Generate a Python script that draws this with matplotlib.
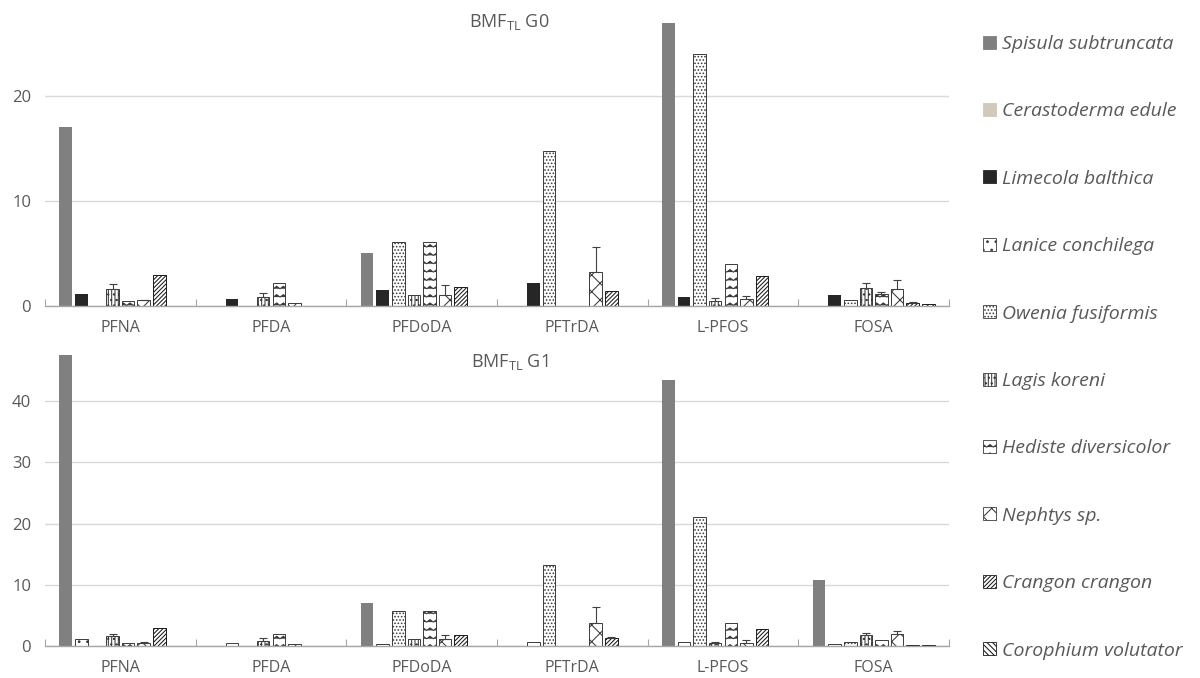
import numpy as np
import matplotlib
matplotlib.use("Agg")
import matplotlib.pyplot as plt
import matplotlib.hatch as mhatch
from matplotlib.path import Path
from matplotlib.patches import Patch
from matplotlib.font_manager import FontProperties

# ---------------- custom zig-zag hatch (used for Hediste) ----------------
class ZigZagHatch(mhatch.HatchPatternBase):
    def __init__(self, hatch, density):
        self.num_rows = int(hatch.count('O') * density)
        self.num_zigs = int(self.num_rows * 1.3)
        self.num_vertices = self.num_rows * (2 * self.num_zigs + 1) if self.num_rows else 0

    def set_vertices_and_codes(self, vertices, codes):
        n, m = self.num_rows, self.num_zigs
        amp = 0.15 / n
        cursor = 0
        xs = np.linspace(0.0, 1.0, 2 * m + 1)
        offs = np.where(np.arange(2 * m + 1) % 2 == 0, -amp, amp)
        for k in range(n):
            y0 = (k + 0.5) / n
            seg = slice(cursor, cursor + 2 * m + 1)
            vertices[seg, 0] = xs
            vertices[seg, 1] = y0 + offs
            codes[seg] = Path.LINETO
            codes[cursor] = Path.MOVETO
            cursor += 2 * m + 1

mhatch._hatch_types[:] = [h for h in mhatch._hatch_types if h is not mhatch.LargeCircles] + [ZigZagHatch]

# ---------------- data ----------------
categories = ["PFNA", "PFDA", "PFDoDA", "PFTrDA", "L-PFOS", "FOSA"]

legend_species = ["Spisula subtruncata", "Cerastoderma edule", "Limecola balthica",
                  "Lanice conchilega", "Owenia fusiformis", "Lagis koreni",
                  "Hediste diversicolor", "Nephtys sp.", "Crangon crangon",
                  "Corophium volutator"]

nan = np.nan
# G0
g0_species = ["Spisula subtruncata", "Limecola balthica", "Owenia fusiformis", "Lagis koreni",
              "Hediste diversicolor", "Nephtys sp.", "Crangon crangon", "Corophium volutator"]
spisula_g0 = [17.0, nan, 5.0, nan, 26.9, nan]
limecola_g0 = [1.1, 0.65, 1.5, 2.15, 0.9, 1.0]
owenia_g0 = [nan, nan, 6.1, 14.75, 24.0, 0.55]
lagis_g0 = [1.6, 0.85, 1.05, nan, 0.45, 1.7]
hediste_g0 = [0.45, 2.15, 6.1, nan, 3.95, 1.1]
nephtys_g0 = [0.55, 0.3, 1.05, 3.2, 0.65, 1.6]
crangon_g0 = [2.95, nan, 1.8, 1.45, 2.85, 0.25]
corophium_g0 = [nan, nan, nan, nan, nan, 0.2]

lagis_err_g0 = [0.45, 0.4, 0, 0, 0.28, 0.45]
hediste_err_g0 = [0, 0, 0, 0, 0, 0.25]
nephtys_err_g0 = [0.05, 0, 0.92, 2.45, 0.31, 0.86]
crangon_err_g0 = [0, 0, 0, 0, 0, 0.15]

# G1
g1_species = ["Spisula subtruncata", "Lanice conchilega", "Owenia fusiformis", "Lagis koreni",
              "Hediste diversicolor", "Nephtys sp.", "Crangon crangon", "Corophium volutator"]
spisula_g1 = [47.5, nan, 7.0, nan, 43.5, 10.8]
lanice_g1 = [1.2, 0.45, 0.35, 0.6, 0.6, 0.35]
owenia_g1 = [nan, nan, 5.65, 13.3, 21.1, 0.6]
lagis_g1 = [1.6, 0.8, 1.1, nan, 0.45, 1.75]
hediste_g1 = [0.45, 1.95, 5.65, nan, 3.7, 0.95]
nephtys_g1 = [0.55, 0.25, 1.1, 3.7, 0.55, 1.95]
crangon_g1 = [2.9, nan, 1.8, 1.25, 2.7, 0.1]
corophium_g1 = [nan, nan, nan, nan, nan, 0.1]

lagis_err_g1 = [0.35, 0.45, 0, 0, 0.25, 0.35]
hediste_err_g1 = [0, 0, 0, 0, 0, 0]
nephtys_err_g1 = [0.15, 0, 0.7, 2.6, 0.38, 0.5]
crangon_err_g1 = [0, 0, 0, 0.25, 0, 0]

g0_values = [spisula_g0, limecola_g0, owenia_g0, lagis_g0, hediste_g0, nephtys_g0, crangon_g0, corophium_g0]
g1_values = [spisula_g1, lanice_g1, owenia_g1, lagis_g1, hediste_g1, nephtys_g1, crangon_g1, corophium_g1]
g0_errors = {"Lagis koreni": lagis_err_g0, "Hediste diversicolor": hediste_err_g0,
             "Nephtys sp.": nephtys_err_g0, "Crangon crangon": crangon_err_g0}
g1_errors = {"Lagis koreni": lagis_err_g1, "Hediste diversicolor": hediste_err_g1,
             "Nephtys sp.": nephtys_err_g1, "Crangon crangon": crangon_err_g1}

# ---------------- styles ----------------
EDGE = "#3a3a3a"
styles = {
    "Spisula subtruncata": dict(facecolor="#808080", edgecolor="none", hatch=None),
    "Cerastoderma edule": dict(facecolor="#d1c9b9", edgecolor="none", hatch=None),
    "Limecola balthica": dict(facecolor="#262626", edgecolor="none", hatch=None),
    "Lanice conchilega": dict(facecolor="white", edgecolor=EDGE, hatch=".."),
    "Owenia fusiformis": dict(facecolor="white", edgecolor=EDGE, hatch="....."),
    "Lagis koreni": dict(facecolor="white", edgecolor=EDGE, hatch="|||||..."),
    "Hediste diversicolor": dict(facecolor="white", edgecolor=EDGE, hatch="OO"),
    "Nephtys sp.": dict(facecolor="white", edgecolor=EDGE, hatch="xx"),
    "Crangon crangon": dict(facecolor="white", edgecolor="#1a1a1a", hatch="////////"),
    "Corophium volutator": dict(facecolor="white", edgecolor="#1a1a1a", hatch="\\\\\\\\\\\\"),
}

TEXT = "#595959"
plt.rcParams["font.family"] = ["Open Sans", "DejaVu Sans"]
plt.rcParams["hatch.linewidth"] = 0.75

fig = plt.figure(figsize=(12, 6.78), dpi=100)

W, H = 1200.0, 678.0
ax_left = 45 / W
ax_width = 904 / W
ax_top = fig.add_axes([ax_left, (H - 306) / H, ax_width, 306 / H])
ax_bot = fig.add_axes([ax_left, 32 / H, ax_width, 306 / H])

slot = 15.6 / 150.67
bar_w = 12.5 / 150.67
x = np.arange(len(categories))


def draw(ax, species, values, errors, ylim, yticks, title):
    n = len(species)
    for j, (sp, vals) in enumerate(zip(species, values)):
        pos = x + (j - (n - 1) / 2) * slot
        st = styles[sp]
        ax.bar(pos, vals, width=bar_w, facecolor=st["facecolor"], edgecolor=st["edgecolor"],
               hatch=st["hatch"], linewidth=0.7, zorder=3)
        if sp in errors:
            err = np.array(errors[sp], dtype=float)
            v = np.array(vals, dtype=float)
            mask = err > 0
            if mask.any():
                ax.errorbar(pos[mask], v[mask], yerr=[np.zeros(mask.sum()), err[mask]],
                            fmt="none", ecolor="#404040", elinewidth=0.8, capsize=3,
                            capthick=0.8, zorder=4)
    ax.set_xlim(-0.5, len(categories) - 0.5)
    ax.set_ylim(*ylim)
    ax.set_yticks(yticks)
    ax.set_xticks(x)
    ax.set_xticklabels(categories)
    ax.set_xticks(np.arange(len(categories) + 1) - 0.5, minor=True)
    ax.tick_params(axis="x", which="major", length=0, pad=10, labelsize=11.5, labelcolor=TEXT)
    ax.tick_params(axis="x", which="minor", length=5, direction="in", color="#a6a6a6", width=0.8)
    ax.tick_params(axis="y", length=0, pad=10, labelsize=12, labelcolor=TEXT)
    for s in ["top", "right", "left"]:
        ax.spines[s].set_visible(False)
    ax.spines["bottom"].set_color("#a6a6a6")
    ax.spines["bottom"].set_linewidth(1.0)
    ax.spines["bottom"].set_zorder(5)
    ax.yaxis.grid(True, color="#d9d9d9", linewidth=1.0, zorder=0)
    ax.set_axisbelow(True)
    ax.set_facecolor("none")
    ax.text(0.514, 0.928, title, transform=ax.transAxes, ha="center", va="center",
            fontsize=13, color=TEXT)


draw(ax_top, g0_species, g0_values, g0_errors, (0, 29.1), [0, 10, 20],
     r"BMF$_{\mathregular{TL}}$ G0")
draw(ax_bot, g1_species, g1_values, g1_errors, (0, 50), [0, 10, 20, 30, 40],
     r"BMF$_{\mathregular{TL}}$ G1")

handles = [Patch(facecolor=styles[s]["facecolor"], edgecolor=styles[s]["edgecolor"]
                 if styles[s]["edgecolor"] != "none" else styles[s]["facecolor"],
                 hatch=styles[s]["hatch"], linewidth=0.6) for s in legend_species]
fig.legend(handles, legend_species, loc="upper left", bbox_to_anchor=(983 / W, 1 - 35 / H),
           frameon=False, prop=FontProperties(family="Open Sans", style="italic", size=14),
           labelcolor=TEXT, handlelength=0.65, handleheight=0.65, handletextpad=0.35,
           labelspacing=2.54, borderpad=0, borderaxespad=0)

fig.savefig("out.png", dpi=100)
